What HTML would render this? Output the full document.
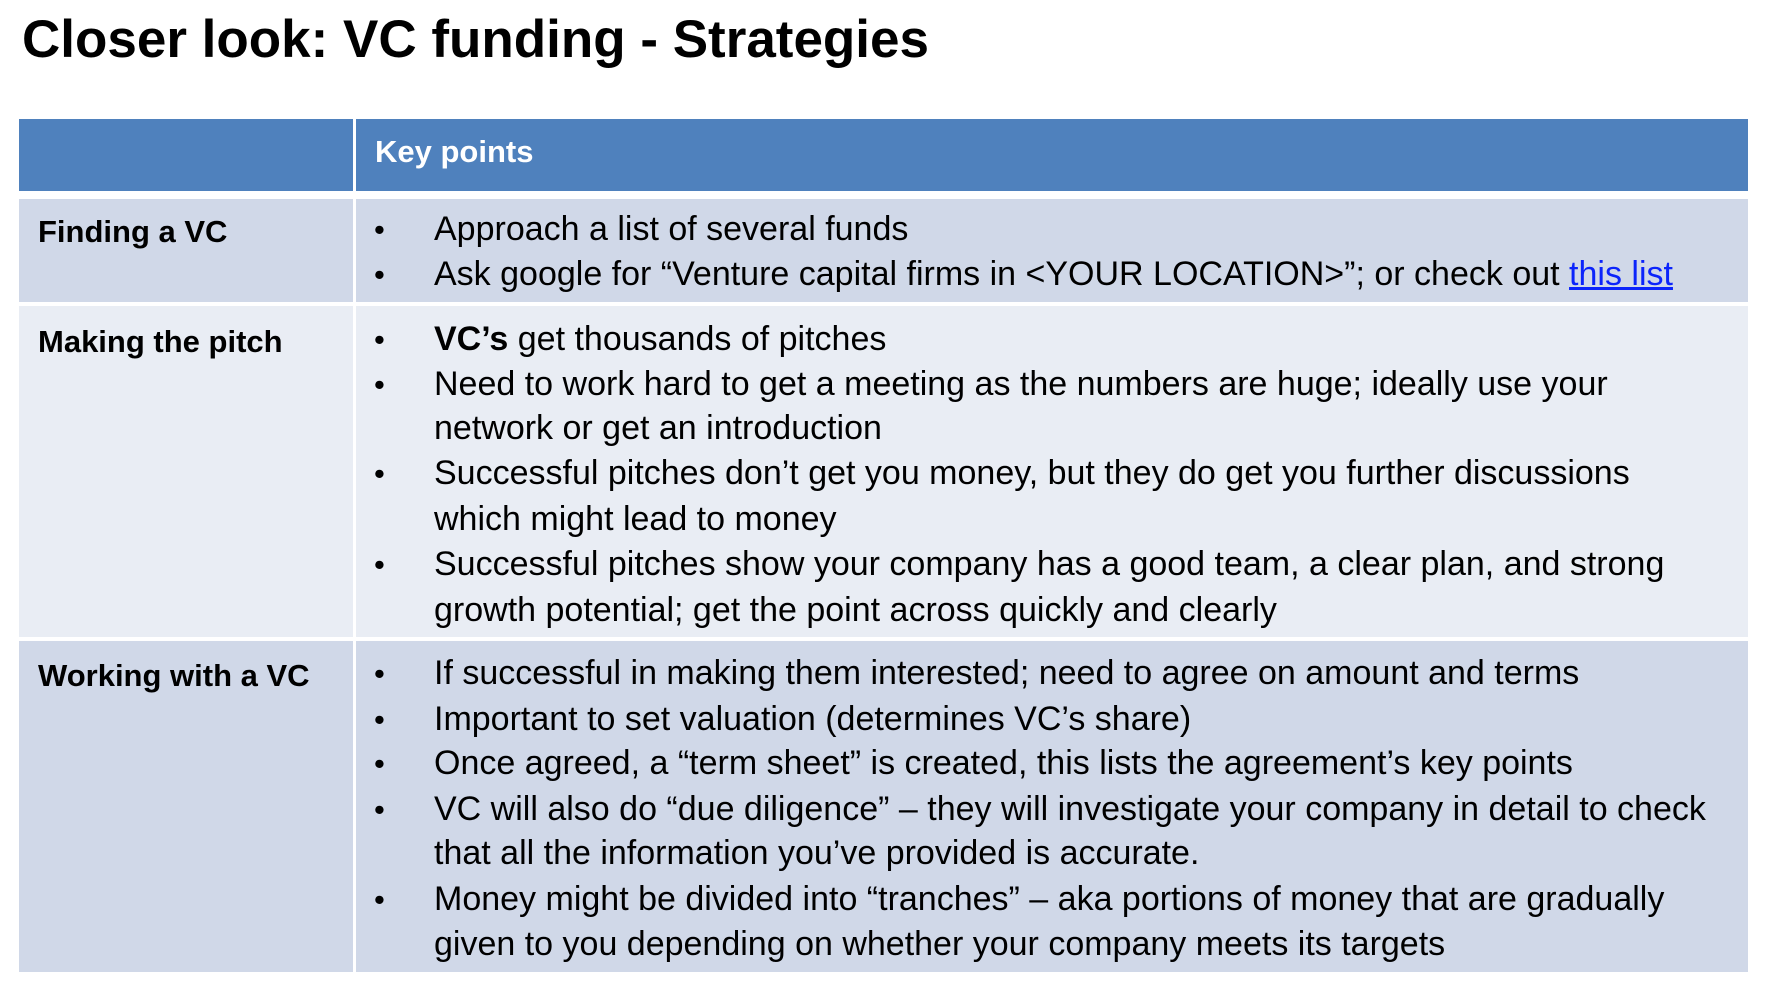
<!DOCTYPE html>
<html><head><meta charset="utf-8">
<style>
html,body{margin:0;padding:0;background:#fff;width:1774px;height:990px;overflow:hidden;position:relative;font-family:"Liberation Sans",sans-serif;}
.abs{position:absolute;}
.cell{position:absolute;}
.t{position:absolute;white-space:nowrap;font-size:34px;line-height:45px;color:#000;}
.lab{font-weight:bold;left:38px;font-size:31px;}
.b{left:374px;font-size:31px;}
.x{left:434px;}
a{color:#0b24fb;text-decoration:underline;}
#txt{position:absolute;left:0;top:3px;width:1774px;height:990px;}
</style></head><body>
<div class="abs" style="left:22px;top:8px;font-size:53px;font-weight:bold;line-height:64px;white-space:nowrap;">Closer look: VC funding - Strategies</div>

<div class="cell" style="left:19px;top:119px;width:334px;height:72px;background:#4f81bd;"></div>
<div class="cell" style="left:356px;top:119px;width:1392px;height:72px;background:#4f81bd;"></div>

<div class="cell" style="left:19px;top:199px;width:334px;height:103px;background:#d0d8e8;"></div>
<div class="cell" style="left:356px;top:199px;width:1392px;height:103px;background:#d0d8e8;"></div>
<div class="cell" style="left:19px;top:306px;width:334px;height:331px;background:#e9edf4;"></div>
<div class="cell" style="left:356px;top:306px;width:1392px;height:331px;background:#e9edf4;"></div>
<div class="cell" style="left:19px;top:641px;width:334px;height:331px;background:#d0d8e8;"></div>
<div class="cell" style="left:356px;top:641px;width:1392px;height:331px;background:#d0d8e8;"></div>

<div id="txt">
<div class="t" style="left:375px;top:126px;color:#fff;font-weight:bold;font-size:31px;">Key points</div>
<div class="t lab" style="top:206px;">Finding a VC</div>
<div class="t lab" style="top:316px;">Making the pitch</div>
<div class="t lab" style="top:650px;">Working with a VC</div>

<div>
<div class="t b" style="top:204px;">•</div><div class="t x" style="top:204px;">Approach a list of several funds</div>
<div class="t b" style="top:249px;">•</div><div class="t x" style="top:249px;">Ask google for “Venture capital firms in &lt;YOUR LOCATION&gt;”; or check out <a>this list</a></div>
</div>

<div>
<div class="t b" style="top:314px;">•</div><div class="t x" style="top:314px;"><b>VC’s</b> get thousands of pitches</div>
<div class="t b" style="top:359px;">•</div><div class="t x" style="top:359px;">Need to work hard to get a meeting as the numbers are huge; ideally use your</div>
<div class="t x" style="top:403px;">network or get an introduction</div>
<div class="t b" style="top:448px;">•</div><div class="t x" style="top:448px;">Successful pitches don’t get you money, but they do get you further discussions</div>
<div class="t x" style="top:494px;">which might lead to money</div>
<div class="t b" style="top:539px;">•</div><div class="t x" style="top:539px;">Successful pitches show your company has a good team, a clear plan, and strong</div>
<div class="t x" style="top:585px;">growth potential; get the point across quickly and clearly</div>
</div>

<div>
<div class="t b" style="top:648px;">•</div><div class="t x" style="top:648px;">If successful in making them interested; need to agree on amount and terms</div>
<div class="t b" style="top:694px;">•</div><div class="t x" style="top:694px;">Important to set valuation (determines VC’s share)</div>
<div class="t b" style="top:738px;">•</div><div class="t x" style="top:738px;">Once agreed, a “term sheet” is created, this lists the agreement’s key points</div>
<div class="t b" style="top:784px;">•</div><div class="t x" style="top:784px;">VC will also do “due diligence” – they will investigate your company in detail to check</div>
<div class="t x" style="top:828px;">that all the information you’ve provided is accurate.</div>
<div class="t b" style="top:874px;">•</div><div class="t x" style="top:874px;">Money might be divided into “tranches” – aka portions of money that are gradually</div>
<div class="t x" style="top:919px;">given to you depending on whether your company meets its targets</div>
</div>
</div>
</body></html>
